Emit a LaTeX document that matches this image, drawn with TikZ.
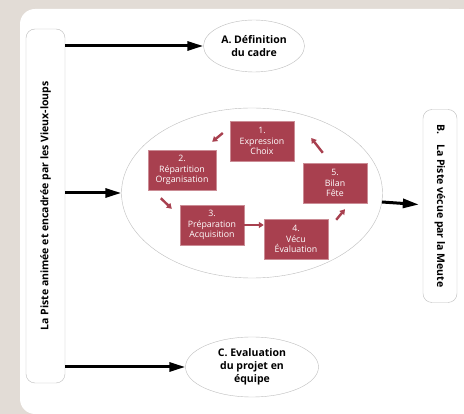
\documentclass[tikz,border=0pt]{standalone}
\usepackage{fontspec}
\setmainfont{Open Sans}
\usetikzlibrary{positioning,calc,arrows.meta,shapes.geometric}
\definecolor{paper}{HTML}{E2DCD6}
\definecolor{stepred}{HTML}{A8404F}
\definecolor{rim}{HTML}{BDBDBD}

\begin{document}
\begin{tikzpicture}[x=1pt, y=-1pt,
    side/.style={rectangle, draw=rim, fill=white, rounded corners=9pt,
                 font=\bfseries\fontsize{10.5}{12}\selectfont, inner sep=2pt},
    goal/.style={ellipse, draw=rim, fill=white, align=center, inner sep=0pt,
                 font=\bfseries\fontsize{10.5}{13}\selectfont},
    stepbox/.style={rectangle, fill=stepred, draw=stepred!60!white, text=white,
                    align=center, minimum width=64pt, minimum height=40pt,
                    inner sep=1pt, font=\fontsize{8.8}{10.5}\selectfont},
    arr/.style={-{Triangle[length=16pt, width=9pt]}, line width=3pt},
    loop/.style={-{Triangle[length=5pt, width=6pt]}, line width=2.4pt, stepred}
]
% paper and panel
\fill[paper] (0,0) rectangle (464,414);
\fill[white, rounded corners=15pt] (20,9) rectangle (464,414);
\fill[white] (60,9) rectangle (464,414);

% outer frame
\node[side, rotate=90, minimum width=354pt, minimum height=39pt] (anim) at (45.5,206)
    {La Piste animée et encadrée par les Vieux-loups};
\node[side, rotate=-90, minimum width=193pt, minimum height=34pt] (meute) at (440,206)
    {B.\hspace{10pt}La Piste vécue par la Meute};
\node[goal, minimum width=101pt, minimum height=52pt] (cadre) at (254,46)
    {A. Définition\\du cadre};
\node[goal, minimum width=133pt, minimum height=60pt] (eval) at (252,367)
    {C. Evaluation\\du projet en\\équipe};
\node[goal, minimum width=261pt, minimum height=170pt] (cycle) at (252,193) {};

% the five steps
\node[stepbox] (s1) at (262,141) {1.\\Expression\\Choix};
\node[stepbox, minimum width=68pt] (s2) at (182,170) {2.\\Répartition\\Organisation};
\node[stepbox] (s3) at (212,225) {3.\\Préparation\\Acquisition};
\node[stepbox] (s4) at (296,239) {4.\\Vécu\\Évaluation};
\node[stepbox] (s5) at (335,183) {5.\\Bilan\\Fête};

\draw[arr] (anim.south |- cadre) -- (cadre);
\draw[arr] (anim.south |- cycle) -- (cycle);
\draw[arr] (anim.south |- eval) -- (eval);
\draw[arr, shorten >=4pt] (cycle) -- (meute);

\draw[loop] ($(s1.west)+(-7,-8)$) -- ($(s2.north east)+(-4,-8)$);
\draw[loop] ($(s2.south west)+(13,8)$) -- ($(s3.north west)+(-8,4)$);
\draw[loop] (s3.east) -- (s3.east -| s4.west);
\draw[loop] ($(s4.north east)+(8,1)$) -- ($(s5.south)+(10,6)$);
\draw[loop] ($(s5.north west)+(20,-10)$) -- ($(s1.east)+(17,-3)$);

\pgfresetboundingbox
\useasboundingbox (0,0) rectangle (464,414);
\end{tikzpicture}
\end{document}
